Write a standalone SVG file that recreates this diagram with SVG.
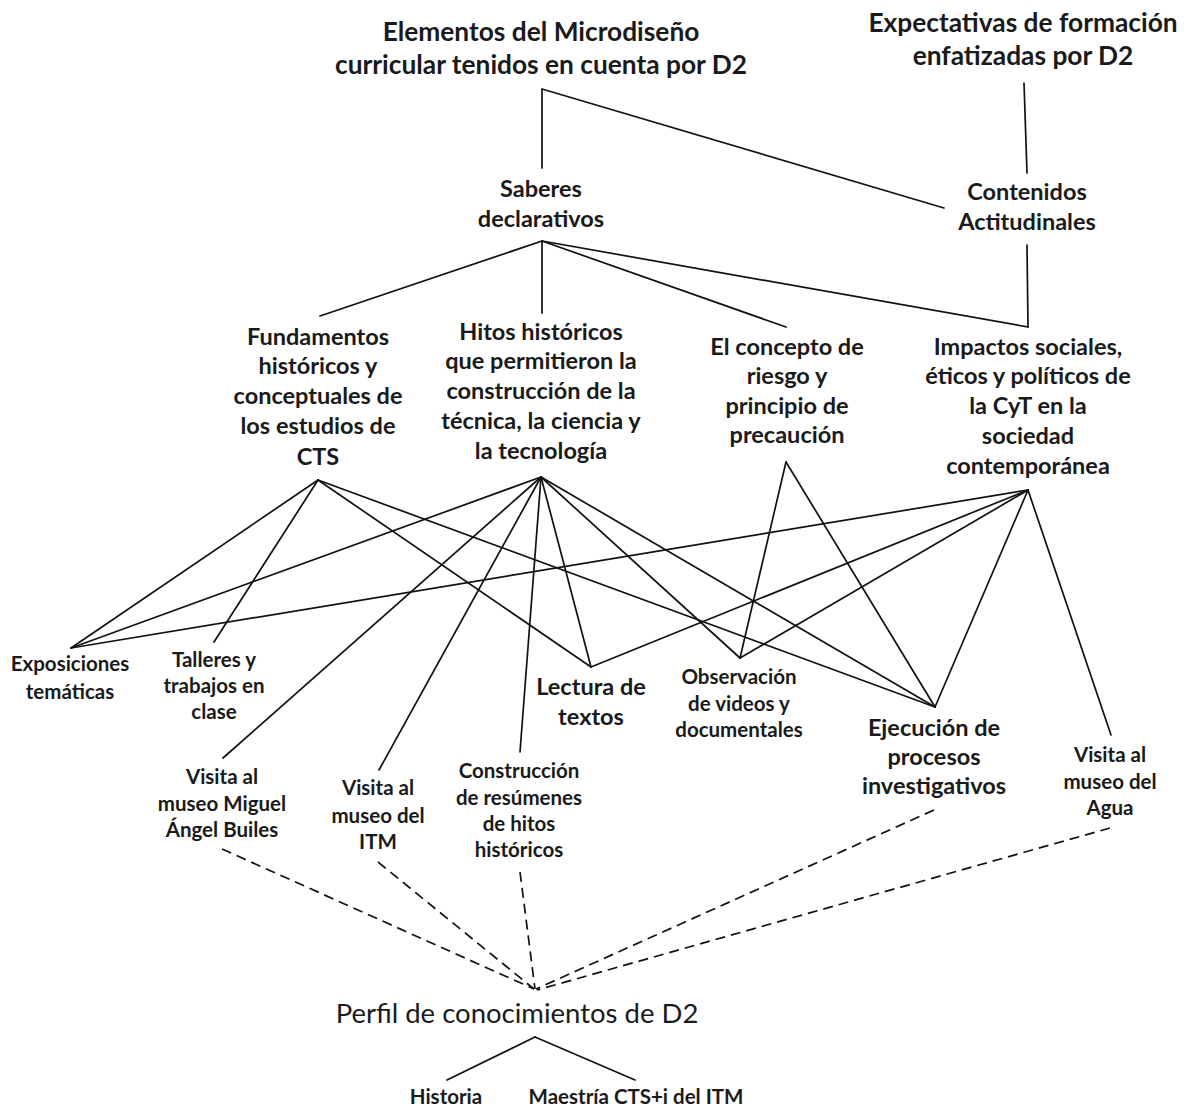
<svg xmlns="http://www.w3.org/2000/svg" width="1187" height="1110" viewBox="0 0 1187 1110">
<style>
text{font-family:Lato,"Liberation Sans",sans-serif;fill:#1a1a1a;text-anchor:middle}
.t{font-size:26.3px;font-weight:700}
.n{font-size:23.5px;font-weight:700}
.s{font-size:20.5px;font-weight:700}
.p{font-size:27.5px;font-weight:400}
.c line{stroke:#111;stroke-width:1.7;stroke-linecap:round}
.c .d{stroke-dasharray:10 6;stroke-linecap:butt}
</style>
<rect width="1187" height="1110" fill="#fff"/>
<g class="c" id="connectors">
<line x1="542" y1="89" x2="542" y2="168"/>
<line x1="542" y1="89" x2="944" y2="208"/>
<line x1="1024" y1="83" x2="1027" y2="173"/>
<line x1="1027" y1="245" x2="1028" y2="327"/>
<line x1="542" y1="241" x2="320" y2="316"/>
<line x1="542" y1="241" x2="542" y2="313"/>
<line x1="542" y1="241" x2="786" y2="327"/>
<line x1="542" y1="241" x2="1028" y2="327"/>
<line x1="318" y1="480" x2="71" y2="648"/>
<line x1="318" y1="480" x2="214" y2="642"/>
<line x1="318" y1="480" x2="591" y2="667"/>
<line x1="318" y1="480" x2="935" y2="707"/>
<line x1="541" y1="477" x2="71" y2="648"/>
<line x1="541" y1="477" x2="223" y2="758"/>
<line x1="541" y1="477" x2="379" y2="770"/>
<line x1="541" y1="477" x2="520" y2="752"/>
<line x1="541" y1="477" x2="591" y2="667"/>
<line x1="541" y1="477" x2="740" y2="658"/>
<line x1="541" y1="477" x2="935" y2="707"/>
<line x1="786" y1="462" x2="740" y2="658"/>
<line x1="786" y1="462" x2="935" y2="707"/>
<line x1="1028" y1="490" x2="71" y2="648"/>
<line x1="1028" y1="490" x2="591" y2="667"/>
<line x1="1028" y1="490" x2="740" y2="658"/>
<line x1="1028" y1="490" x2="935" y2="707"/>
<line x1="1028" y1="490" x2="1111" y2="735"/>
<line class="d" x1="222" y1="849" x2="534" y2="989"/>
<line class="d" x1="378" y1="862" x2="534" y2="989"/>
<line class="d" x1="520" y1="872" x2="535" y2="989"/>
<line class="d" x1="934" y1="810" x2="536" y2="989"/>
<line class="d" x1="1110" y1="828" x2="537" y2="990"/>
<line x1="535" y1="1037" x2="447" y2="1080"/>
<line x1="535" y1="1037" x2="635" y2="1080"/>
</g>
<g id="n-elementos"><text class="t" x="541" y="41">Elementos del Microdiseño</text><text class="t" x="541" y="74">curricular tenidos en cuenta por D2</text></g>
<g id="n-expectativas"><text class="t" x="1023" y="32">Expectativas de formación</text><text class="t" x="1023" y="65">enfatizadas por D2</text></g>
<g id="n-saberes"><text class="n" x="541" y="197">Saberes</text><text class="n" x="541" y="227">declarativos</text></g>
<g id="n-contenidos"><text class="n" x="1027" y="200">Contenidos</text><text class="n" x="1027" y="230">Actitudinales</text></g>
<g id="n-fundamentos"><text class="n" x="318" y="345">Fundamentos</text><text class="n" x="318" y="374">históricos y</text><text class="n" x="318" y="404">conceptuales de</text><text class="n" x="318" y="434">los estudios de</text><text class="n" x="318" y="465">CTS</text></g>
<g id="n-hitos"><text class="n" x="541" y="340">Hitos históricos</text><text class="n" x="541" y="369">que permitieron la</text><text class="n" x="541" y="399">construcción de la</text><text class="n" x="541" y="429">técnica, la ciencia y</text><text class="n" x="541" y="459">la tecnología</text></g>
<g id="n-concepto"><text class="n" x="787" y="355">El concepto de</text><text class="n" x="787" y="384">riesgo y</text><text class="n" x="787" y="414">principio de</text><text class="n" x="787" y="443">precaución</text></g>
<g id="n-impactos"><text class="n" x="1028" y="355">Impactos sociales,</text><text class="n" x="1028" y="384">éticos y políticos de</text><text class="n" x="1028" y="414">la CyT en la</text><text class="n" x="1028" y="444">sociedad</text><text class="n" x="1028" y="474">contemporánea</text></g>
<g id="n-exposiciones"><text class="s" x="70" y="671">Exposiciones</text><text class="s" x="70" y="699">temáticas</text></g>
<g id="n-talleres"><text class="s" x="214" y="667">Talleres y</text><text class="s" x="214" y="693">trabajos en</text><text class="s" x="214" y="719">clase</text></g>
<g id="n-lectura"><text class="n" x="591" y="695">Lectura de</text><text class="n" x="591" y="725">textos</text></g>
<g id="n-observacion"><text class="s" x="739" y="684">Observación</text><text class="s" x="739" y="711">de videos y</text><text class="s" x="739" y="737">documentales</text></g>
<g id="n-ejecucion"><text class="n" x="934" y="736">Ejecución de</text><text class="n" x="934" y="765">procesos</text><text class="n" x="934" y="794">investigativos</text></g>
<g id="n-agua"><text class="s" x="1110" y="762">Visita al</text><text class="s" x="1110" y="789">museo del</text><text class="s" x="1110" y="815">Agua</text></g>
<g id="n-miguel"><text class="s" x="222" y="784">Visita al</text><text class="s" x="222" y="811">museo Miguel</text><text class="s" x="222" y="837">Ángel Builes</text></g>
<g id="n-itm"><text class="s" x="378" y="795">Visita al</text><text class="s" x="378" y="823">museo del</text><text class="s" x="378" y="849">ITM</text></g>
<g id="n-construccion"><text class="s" x="519" y="778">Construcción</text><text class="s" x="519" y="805">de resúmenes</text><text class="s" x="519" y="831">de hitos</text><text class="s" x="519" y="857">históricos</text></g>
<g id="n-perfil"><text class="p" x="517" y="1023">Perfil de conocimientos de D2</text></g>
<g id="n-historia"><text class="s" x="446" y="1104">Historia</text></g>
<g id="n-maestria"><text class="s" x="636" y="1104">Maestría CTS+i del ITM</text></g>
</svg>
